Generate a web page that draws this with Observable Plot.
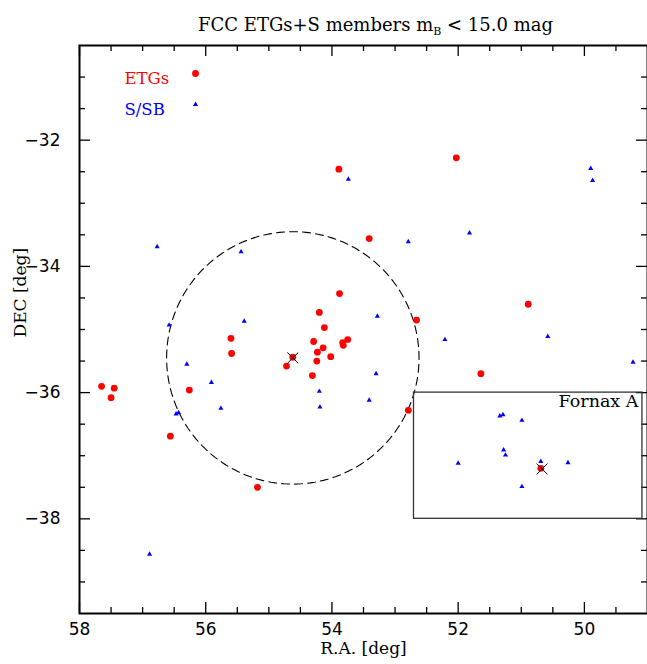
<!DOCTYPE html>
<html><head><meta charset="utf-8">
<script src="https://cdn.jsdelivr.net/npm/d3@7"></script>
<script src="https://cdn.jsdelivr.net/npm/@observablehq/plot@0.6"></script>
<style>body{margin:0;background:#fff}</style>
</head><body><div id="chart"></div>
<script>
// ETGs (red circles)
const etgRA  = [53.89, 53.41, 52.03, 53.88, 54.20, 54.12, 55.60, 55.59, 54.29, 53.75, 53.83, 53.82, 54.14, 54.23, 54.02, 54.24, 54.62, 54.72, 54.31, 57.65, 57.45, 57.50, 56.26, 56.56, 55.18, 52.66, 50.89, 51.64, 52.79, 50.69];
const etgDEC = [-32.46, -33.56, -32.28, -34.43, -34.73, -34.97, -35.14, -35.38, -35.19, -35.16, -35.21, -35.25, -35.29, -35.36, -35.43, -35.50, -35.44, -35.58, -35.73, -35.90, -35.93, -36.08, -35.96, -36.69, -37.50, -34.85, -34.60, -35.70, -36.28, -37.20];
// S/SB (blue triangles)
const sRA  = [53.74, 56.77, 55.44, 49.90, 49.87, 51.82, 52.79, 56.58, 55.39, 56.30, 55.91, 55.76, 56.47, 56.43, 54.20, 54.19, 53.41, 53.28, 52.21, 50.58, 49.23, 53.30, 51.34, 51.29, 50.99, 51.28, 51.25, 52.00, 50.69, 50.26, 50.99, 56.89];
const sDEC = [-32.62, -33.69, -33.77, -32.45, -32.64, -33.47, -33.61, -34.93, -34.87, -35.55, -35.84, -36.25, -36.34, -36.32, -35.98, -36.23, -36.12, -34.79, -35.16, -35.11, -35.52, -35.70, -36.37, -36.35, -36.44, -36.91, -36.99, -37.12, -37.09, -37.11, -37.49, -38.56];
// Centres marked with a cross (NGC 1399, Fornax A)
const crossRA  = [54.62, 50.67];
const crossDEC = [-35.45, -37.21];
// 2-degree circle around NGC 1399
const circleCenter = [54.62, -35.45];
const circleRadius = 2.0;
// Fornax A box
const boxRA  = [52.70, 49.08];
const boxDEC = [-36.0, -38.0];
// Axis ticks
const raMajor  = [58, 56, 54, 52, 50];
const raMinor  = [57.5, 57, 56.5, 55.5, 55, 54.5, 53.5, 53, 52.5, 51.5, 51, 50.5, 49.5];
const decMajor = [-32, -34, -36, -38];
const decMinor = [-31, -31.5, -32.5, -33, -33.5, -34.5, -35, -35.5, -36.5, -37, -37.5, -38.5, -39];

const titleText = "FCC ETGs+S members mB < 15.0 mag";

const etg = etgRA.map((x, i) => ({x, y: etgDEC[i]}));
const spiral = sRA.map((x, i) => ({x, y: sDEC[i]}));
const cross = crossRA.map((x, i) => ({x, y: crossDEC[i]}));
const circle = d3.range(0, 361, 2).map(a => ({
  x: circleCenter[0] + circleRadius * Math.cos(a * Math.PI / 180),
  y: circleCenter[1] + circleRadius * Math.sin(a * Math.PI / 180)
}));

const W = 647, H = 664, mL = 79, mR = 0, mT = 45, mB = 51;
const innerW = W - mL - mR, innerH = H - mT - mB;
const major = 11, minor = 6;
const serif = "DejaVu Serif";

const chart = Plot.plot({
  width: W, height: H,
  marginLeft: mL, marginRight: mR, marginTop: mT, marginBottom: mB,
  x: {domain: [58, 49], label: null},
  y: {domain: [-39.5, -30.5], label: null},
  style: {fontFamily: "DejaVu Sans", fontSize: "17px", background: "white", color: "black"},
  marks: [
    Plot.axisX({ticks: raMajor, tickSize: 0, tickPadding: 9, fontSize: 17, label: null, tickFormat: d => String(d)}),
    Plot.axisY({ticks: decMajor, tickSize: 0, tickPadding: 19, fontSize: 17, label: null, tickFormat: d => d < 0 ? "\u2212" + (-d) : String(d)}),
    // inward ticks: bottom, top
    Plot.tickX(raMajor, {x: d => d, insetTop: innerH - major, stroke: "black", strokeWidth: 1.3}),
    Plot.tickX(raMinor, {x: d => d, insetTop: innerH - minor, stroke: "black", strokeWidth: 1.3}),
    Plot.tickX(raMajor, {x: d => d, insetBottom: innerH - major, stroke: "black", strokeWidth: 1.3}),
    Plot.tickX(raMinor, {x: d => d, insetBottom: innerH - minor, stroke: "black", strokeWidth: 1.3}),
    // left, right
    Plot.tickY(decMajor, {y: d => d, insetRight: innerW - major, stroke: "black", strokeWidth: 1.3}),
    Plot.tickY(decMinor, {y: d => d, insetRight: innerW - minor, stroke: "black", strokeWidth: 1.3}),
    Plot.tickY(decMajor, {y: d => d, insetLeft: innerW - major, stroke: "black", strokeWidth: 1.3}),
    Plot.tickY(decMinor, {y: d => d, insetLeft: innerW - minor, stroke: "black", strokeWidth: 1.3}),
    // dashed circle
    Plot.line(circle, {x: "x", y: "y", stroke: "black", strokeWidth: 1.1, strokeDasharray: "8,5"}),
    // Fornax A box
    Plot.rect([{}], {x1: () => boxRA[0], x2: () => boxRA[1], y1: () => boxDEC[0], y2: () => boxDEC[1], fill: "none", stroke: "#333", strokeWidth: 1.3}),
    Plot.text(["Fornax A"], {x: () => boxRA[1], y: () => boxDEC[0], textAnchor: "end", dx: -4, dy: 9, fontFamily: serif, fontSize: 17.5, fill: "black"}),
    // points
    Plot.dot(etg, {x: "x", y: "y", fill: "red", r: 3.4, symbol: "circle"}),
    Plot.dot(spiral, {x: "x", y: "y", fill: "blue", r: 1.9, symbol: "triangle"}),
    Plot.dot(cross, {x: "x", y: "y", stroke: "black", r: 5, symbol: "times", strokeWidth: 1}),
    // legend
    Plot.text(["ETGs"], {frameAnchor: "top-left", dx: 45, dy: 27, textAnchor: "start", fill: "red", fontFamily: serif, fontSize: 16.5}),
    Plot.dot([0], {frameAnchor: "top-left", dx: 116, dy: 28, fill: "red", r: 3.4, symbol: "circle"}),
    Plot.text(["S/SB"], {frameAnchor: "top-left", dx: 45, dy: 58, textAnchor: "start", fill: "blue", fontFamily: serif, fontSize: 16.5}),
    Plot.dot([0], {frameAnchor: "top-left", dx: 116, dy: 59, fill: "blue", r: 1.9, symbol: "triangle"}),
    // labels
    Plot.text(["R.A. [deg]"], {frameAnchor: "bottom", dy: 40, fontFamily: serif, fontSize: 17, fill: "black"}),
    Plot.text(["DEC [deg]"], {frameAnchor: "left", dx: -59, dy: 8, rotate: -90, fontFamily: serif, fontSize: 17, fill: "black"}),
    Plot.text([titleText], {frameAnchor: "top", dx: 12, dy: -27, fontFamily: serif, fontSize: 18, fill: "black"}),
    Plot.frame({stroke: "black", strokeWidth: 2})
  ]
});

// subscript B in the title
d3.select(chart).selectAll("text").each(function() {
  if (this.textContent === titleText) {
    const t = d3.select(this);
    t.text(null);
    t.append("tspan").text("FCC ETGs+S members m");
    t.append("tspan").attr("font-size", 11).attr("dy", 4).text("B");
    t.append("tspan").attr("dy", -4).text(" < 15.0 mag");
  }
});

document.getElementById("chart").appendChild(chart);
</script>
</body></html>
